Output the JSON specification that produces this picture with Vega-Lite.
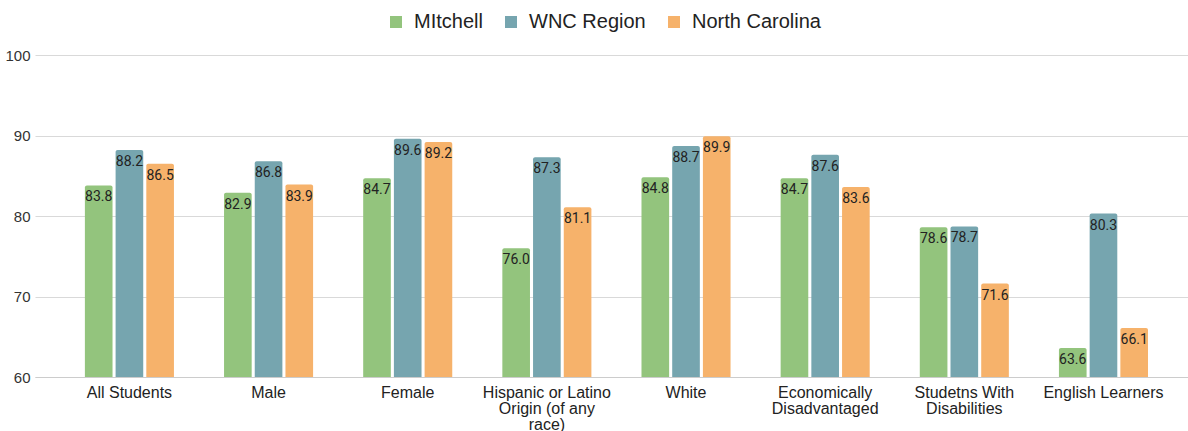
{
  "$schema": "https://vega.github.io/schema/vega-lite/v6.json",
  "width": 1153,
  "height": 322,
  "autosize": {"type": "none"},
  "padding": {"left": 35, "top": 55, "right": 0, "bottom": 54},
  "background": "white",
  "config": {
    "view": {"stroke": null},
    "font": "Liberation Sans"
  },
  "data": {
    "values": [
      {"group": "All Students", "series": "MItchell", "value": 83.8},
      {"group": "All Students", "series": "WNC Region", "value": 88.2},
      {"group": "All Students", "series": "North Carolina", "value": 86.5},
      {"group": "Male", "series": "MItchell", "value": 82.9},
      {"group": "Male", "series": "WNC Region", "value": 86.8},
      {"group": "Male", "series": "North Carolina", "value": 83.9},
      {"group": "Female", "series": "MItchell", "value": 84.7},
      {"group": "Female", "series": "WNC Region", "value": 89.6},
      {"group": "Female", "series": "North Carolina", "value": 89.2},
      {"group": "Hispanic or Latino Origin (of any race)", "series": "MItchell", "value": 76.0},
      {"group": "Hispanic or Latino Origin (of any race)", "series": "WNC Region", "value": 87.3},
      {"group": "Hispanic or Latino Origin (of any race)", "series": "North Carolina", "value": 81.1},
      {"group": "White", "series": "MItchell", "value": 84.8},
      {"group": "White", "series": "WNC Region", "value": 88.7},
      {"group": "White", "series": "North Carolina", "value": 89.9},
      {"group": "Economically Disadvantaged", "series": "MItchell", "value": 84.7},
      {"group": "Economically Disadvantaged", "series": "WNC Region", "value": 87.6},
      {"group": "Economically Disadvantaged", "series": "North Carolina", "value": 83.6},
      {"group": "Studetns With Disabilities", "series": "MItchell", "value": 78.6},
      {"group": "Studetns With Disabilities", "series": "WNC Region", "value": 78.7},
      {"group": "Studetns With Disabilities", "series": "North Carolina", "value": 71.6},
      {"group": "English Learners", "series": "MItchell", "value": 63.6},
      {"group": "English Learners", "series": "WNC Region", "value": 80.3},
      {"group": "English Learners", "series": "North Carolina", "value": 66.1}
    ]
  },
  "encoding": {
    "x": {
      "field": "group",
      "type": "nominal",
      "sort": null,
      "title": null,
      "scale": {"paddingInner": 0.36, "paddingOuter": 0.323, "align": 0.555},
      "axis": {
        "labelAngle": 0,
        "labelFontSize": 16,
        "labelColor": "#222222",
        "labelPadding": 7,
        "labelLineHeight": 16,
        "labelLimit": 200,
        "ticks": false,
        "domainColor": "#cccccc",
        "labelExpr": "datum.value == 'Hispanic or Latino Origin (of any race)' ? ['Hispanic or Latino', 'Origin (of any', 'race)'] : datum.value == 'Economically Disadvantaged' ? ['Economically', 'Disadvantaged'] : datum.value == 'Studetns With Disabilities' ? ['Studetns With', 'Disabilities'] : datum.value"
      }
    },
    "xOffset": {
      "field": "series",
      "type": "nominal",
      "sort": ["MItchell", "WNC Region", "North Carolina"],
      "scale": {"paddingInner": 0.1, "paddingOuter": 0}
    },
    "y": {
      "field": "value",
      "type": "quantitative",
      "title": null,
      "stack": null,
      "scale": {"domain": [60, 100], "nice": false, "zero": false},
      "axis": {
        "values": [60, 70, 80, 90, 100],
        "domain": false,
        "ticks": false,
        "labelFontSize": 15,
        "labelColor": "#333333",
        "labelPadding": 5,
        "gridColor": "#d9d9d9"
      }
    }
  },
  "layer": [
    {
      "mark": {"type": "bar", "cornerRadiusTopLeft": 2, "cornerRadiusTopRight": 2},
      "encoding": {
        "y2": {"datum": 60},
        "color": {
          "field": "series",
          "type": "nominal",
          "sort": ["MItchell", "WNC Region", "North Carolina"],
          "scale": {"domain": ["MItchell", "WNC Region", "North Carolina"], "range": ["#93c47d", "#76a5af", "#f6b26b"]},
          "legend": {
            "title": null,
            "orient": "none",
            "direction": "horizontal",
            "legendX": 351,
            "legendY": -43,
            "symbolType": "square",
            "symbolSize": 144,
            "symbolStrokeWidth": 0,
            "labelFontSize": 20,
            "labelColor": "#222222",
            "labelOffset": 8,
            "columnPadding": 18,
            "padding": 0
          }
        }
      }
    },
    {
      "mark": {"type": "text", "baseline": "middle", "dy": 12, "font": "Roboto", "fontSize": 14, "color": "#222222"},
      "encoding": {
        "text": {"field": "value", "type": "quantitative", "format": ".1f"}
      }
    }
  ]
}
